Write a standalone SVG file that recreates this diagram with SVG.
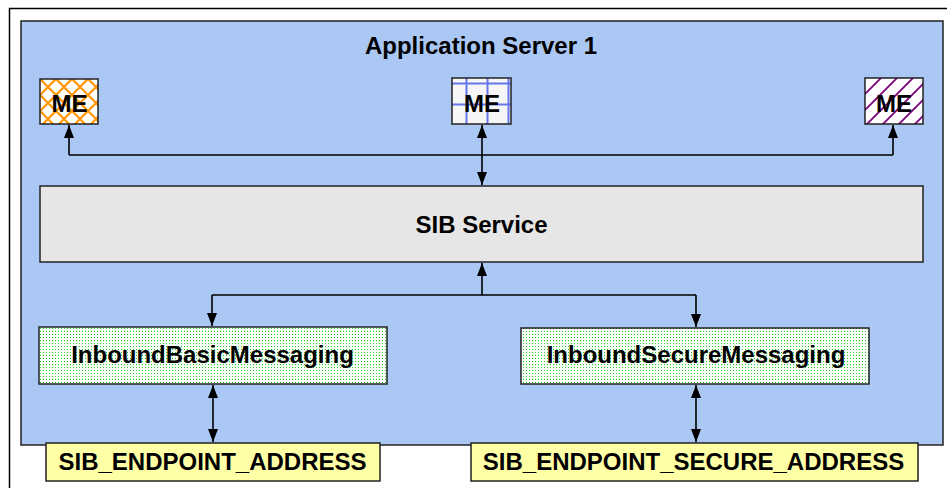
<svg xmlns="http://www.w3.org/2000/svg" width="947" height="488" viewBox="0 0 947 488">
<style>
text{font-family:"Liberation Sans",Arial,sans-serif;font-weight:bold;font-size:24px;fill:#000;text-anchor:middle}
.box{stroke:#222;stroke-width:1.5}
.conn{fill:none;stroke:#000;stroke-width:1.6}
</style>
<defs>
<marker id="ah" viewBox="0 0 13 10" refX="13" refY="5" markerWidth="13" markerHeight="10" markerUnits="userSpaceOnUse" orient="auto-start-reverse">
<path d="M0,0 L13,5 L0,10 z" fill="#000"/>
</marker>
<pattern id="pOrange" patternUnits="userSpaceOnUse" width="16" height="16" x="40" y="79">
<rect width="16" height="16" fill="#fff"/>
<path d="M-4,4 L4,-4 M0,16 L16,0 M12,20 L20,12 M-4,12 L4,20 M0,0 L16,16 M12,-4 L20,4" stroke="#FF9500" stroke-width="2.2"/>
</pattern>
<pattern id="pBlue" patternUnits="userSpaceOnUse" width="21" height="21" x="456" y="73">
<rect width="21" height="21" fill="#f6f6f6"/>
<path d="M10.5,0 V21 M0,10.5 H21" stroke="#6677EE" stroke-width="2"/>
</pattern>
<pattern id="pPurple" patternUnits="userSpaceOnUse" width="16" height="16" x="865" y="78">
<rect width="16" height="16" fill="#fff"/>
<path d="M-4,4 L4,-4 M0,16 L16,0 M12,20 L20,12" stroke="#800080" stroke-width="1.8"/>
</pattern>
<pattern id="pGreen" patternUnits="userSpaceOnUse" width="3" height="3">
<rect width="3" height="3" fill="#fafffa"/>
<rect x="1" y="1" width="1" height="1" fill="#22CC22"/>
</pattern>
</defs>

<rect x="9.5" y="8.5" width="960" height="500" fill="#fff" stroke="#000" stroke-width="1.5"/>

<g id="app-server">
<rect class="box" x="21" y="21" width="922" height="424" fill="#ABC8F5"/>
<text x="481" y="54">Application Server 1</text>
</g>

<g id="me-left">
<rect class="box" x="40" y="79" width="58" height="45" fill="url(#pOrange)"/>
<text x="69.5" y="112">ME</text>
</g>
<g id="me-middle">
<rect class="box" x="452" y="78" width="59" height="46" fill="url(#pBlue)"/>
<text x="482" y="112">ME</text>
</g>
<g id="me-right">
<rect class="box" x="865" y="78" width="58" height="46" fill="url(#pPurple)"/>
<text x="894" y="112">ME</text>
</g>

<g id="sib-service">
<rect class="box" x="40" y="186" width="883" height="76" fill="#E6E6E6"/>
<text x="481.5" y="233" fill="#222">SIB Service</text>
</g>

<g id="inbound-basic">
<rect class="box" x="39" y="327" width="348" height="57" fill="url(#pGreen)"/>
<text x="212.5" y="363">InboundBasicMessaging</text>
</g>
<g id="inbound-secure">
<rect class="box" x="521" y="328" width="348" height="56" fill="url(#pGreen)"/>
<text x="696" y="363">InboundSecureMessaging</text>
</g>

<g id="endpoint-address">
<rect class="box" x="46" y="443" width="334" height="38" fill="#FFFFA6"/>
<text x="212.5" y="470">SIB_ENDPOINT_ADDRESS</text>
</g>
<g id="endpoint-secure-address">
<rect class="box" x="471" y="443" width="447" height="38" fill="#FFFFA6"/>
<text x="693.5" y="470">SIB_ENDPOINT_SECURE_ADDRESS</text>
</g>

<g id="connectors">
<path class="conn" d="M69,155 H893"/>
<path class="conn" d="M69,155 V125" marker-end="url(#ah)"/>
<path class="conn" d="M893,155 V125" marker-end="url(#ah)"/>
<path class="conn" d="M482,125 V185" marker-start="url(#ah)" marker-end="url(#ah)"/>
<path class="conn" d="M212,295 H696"/>
<path class="conn" d="M482,295 V263" marker-end="url(#ah)"/>
<path class="conn" d="M212,295 V326" marker-end="url(#ah)"/>
<path class="conn" d="M696,295 V327" marker-end="url(#ah)"/>
<path class="conn" d="M213,385 V442" marker-start="url(#ah)" marker-end="url(#ah)"/>
<path class="conn" d="M696,385 V442" marker-start="url(#ah)" marker-end="url(#ah)"/>
</g>
</svg>
